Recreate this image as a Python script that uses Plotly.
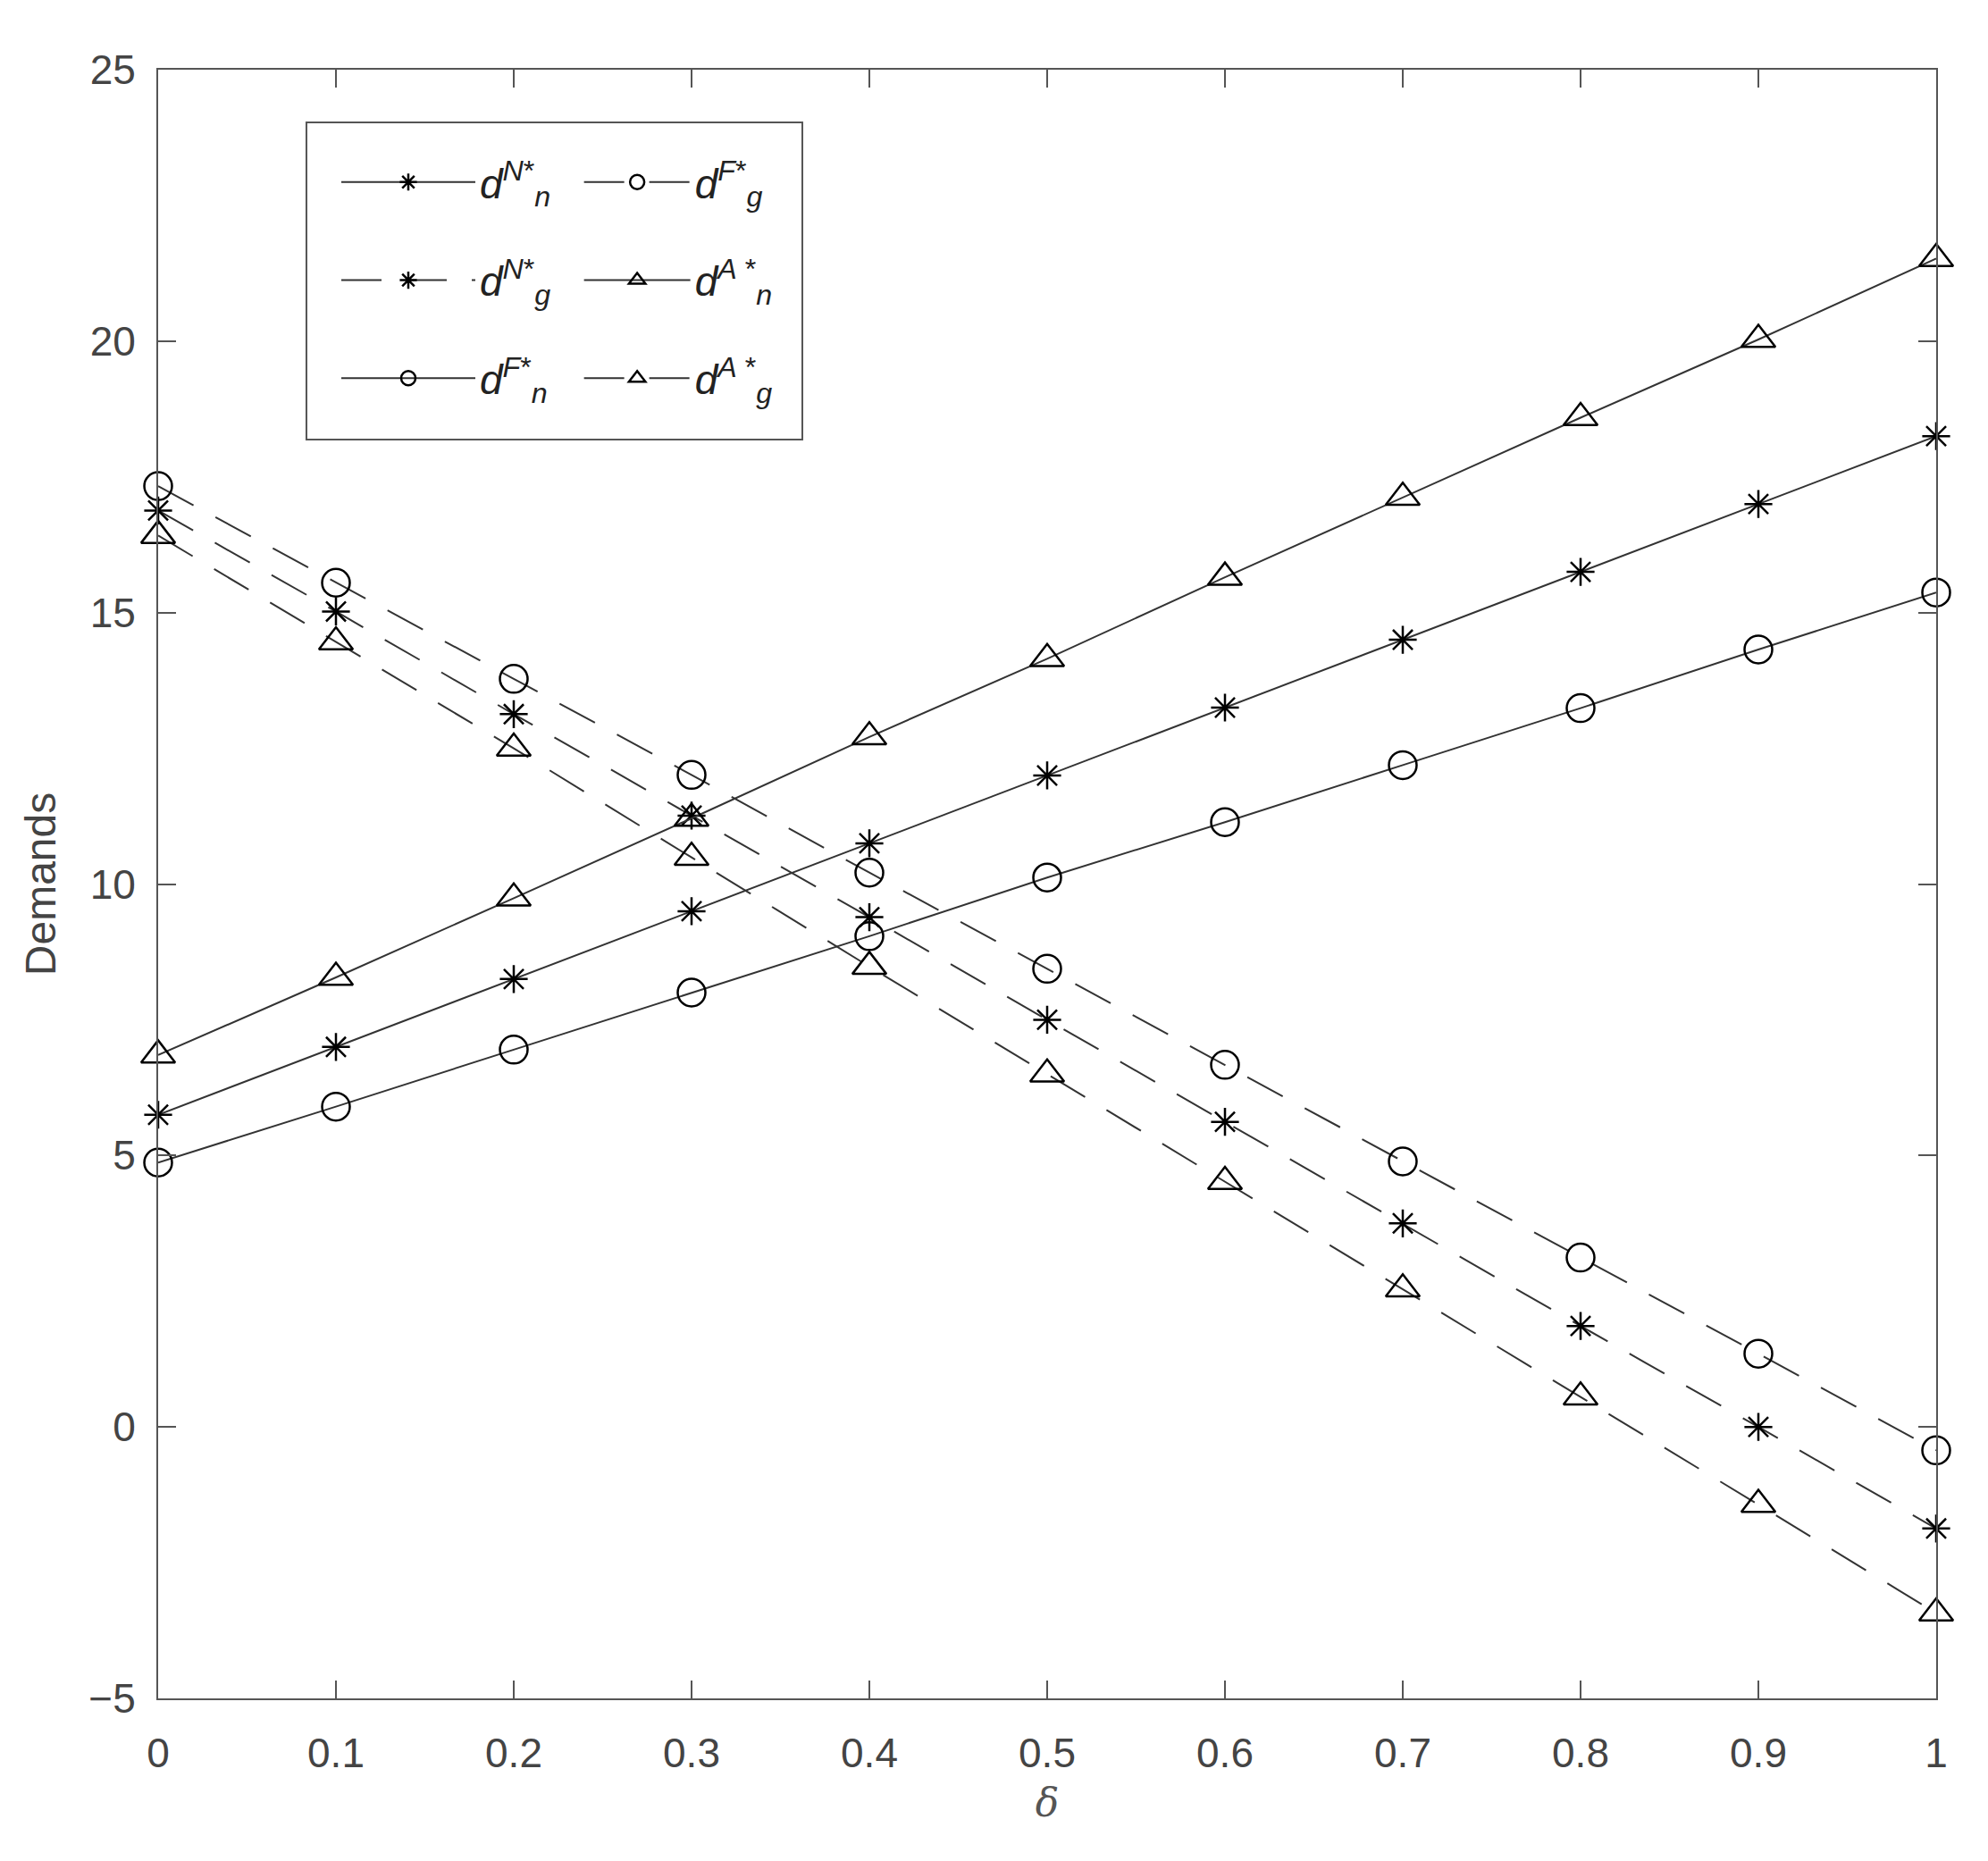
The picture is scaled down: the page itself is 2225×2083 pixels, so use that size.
import plotly.graph_objects as go

delta = [0, 0.1, 0.2, 0.3, 0.4, 0.5, 0.6, 0.7, 0.8, 0.9, 1.0]

dnN = [5.75, 7.0, 8.25, 9.5, 10.75, 12.0, 13.25, 14.5, 15.75, 17.0, 18.25]
dgN = [16.88, 15.02, 13.13, 11.26, 9.39, 7.50, 5.62, 3.75, 1.86, 0.0, -1.87]
dnF = [4.87, 5.90, 6.95, 8.0, 9.04, 10.12, 11.14, 12.19, 13.24, 14.32, 15.37]
dgF = [17.33, 15.55, 13.78, 12.01, 10.21, 8.44, 6.67, 4.89, 3.12, 1.35, -0.43]
dnA = [6.85, 8.28, 9.74, 11.21, 12.71, 14.15, 15.65, 17.12, 18.59, 20.03, 21.52]
dgA = [16.42, 14.46, 12.50, 10.49, 8.48, 6.50, 4.52, 2.54, 0.55, -1.43, -3.43]

names = {
    "dnN": "<i>d</i><sup><i>N</i>*</sup><sub><i>n</i></sub>",
    "dgN": "<i>d</i><sup><i>N</i>*</sup><sub><i>g</i></sub>",
    "dnF": "<i>d</i><sup><i>F</i>*</sup><sub><i>n</i></sub>",
    "dgF": "<i>d</i><sup><i>F</i>*</sup><sub><i>g</i></sub>",
    "dnA": "<i>d</i><sup><i>A</i> *</sup><sub><i>n</i></sub>",
    "dgA": "<i>d</i><sup><i>A</i> *</sup><sub><i>g</i></sub>",
}

LINE = "#333333"
DASH = "45px,28px"

series = [
    ("dnN", dnN, "solid", "asterisk-open", 26, "legend"),
    ("dgN", dgN, DASH, "asterisk-open", 26, "legend"),
    ("dnF", dnF, "solid", "circle-open", 31, "legend"),
    ("dgF", dgF, DASH, "circle-open", 31, "legend2"),
    ("dnA", dnA, "solid", "triangle-up-open", 33, "legend2"),
    ("dgA", dgA, DASH, "triangle-up-open", 33, "legend2"),
]

fig = go.Figure()
for key, vals, dash, sym, size, leg in series:
    fig.add_trace(go.Scatter(
        x=delta, y=vals, mode="lines+markers", name=names[key],
        legend=leg, legendgroup=key,
        line=dict(color=LINE, width=2, dash=dash),
        marker=dict(symbol=sym, size=size, color="black",
                    line=dict(color="black", width=2.5)),
        cliponaxis=False,
    ))

axis_common = dict(
    showline=True, mirror="ticks", linecolor="#555555", linewidth=2,
    ticks="inside", ticklen=20, tickwidth=2, tickcolor="#555555",
    showgrid=False, zeroline=False,
    tickfont=dict(family="Liberation Sans, Arial", size=46, color="#444444"),
)

fig.update_xaxes(range=[0, 1], dtick=0.1, tick0=0, ticklabelstandoff=20,
                 title=dict(text="<i>δ</i>", font=dict(family="DejaVu Serif", size=44, color="#555555"),
                            standoff=15),
                 **axis_common)
fig.update_yaxes(range=[-5, 25], dtick=5, tick0=-5, ticklabelstandoff=14,
                 title=dict(text="Demands", font=dict(family="Liberation Sans, Arial", size=48, color="#444444"),
                            standoff=22),
                 **axis_common)

leg_common = dict(
    bgcolor="rgba(0,0,0,0)", borderwidth=0,
    font=dict(family="Liberation Sans, Arial", size=46, color="#222222"),
    tracegroupgap=47,
    xanchor="left", yanchor="top",
)
fig.update_layout(
    width=2225, height=2083,
    margin=dict(l=169, r=66, t=70, b=190),
    paper_bgcolor="white", plot_bgcolor="white",
    legend=dict(x=0.1005, y=0.951, itemwidth=150, **leg_common),
    legend2=dict(x=0.237, y=0.951, itemwidth=119, **leg_common),
    shapes=[dict(type="rect", xref="paper", yref="paper",
                 x0=0.0834, x1=0.3623, y0=0.7729, y1=0.9677,
                 line=dict(color="#555555", width=2), fillcolor="rgba(0,0,0,0)", layer="below")],
)

fig.write_html("out.html")
